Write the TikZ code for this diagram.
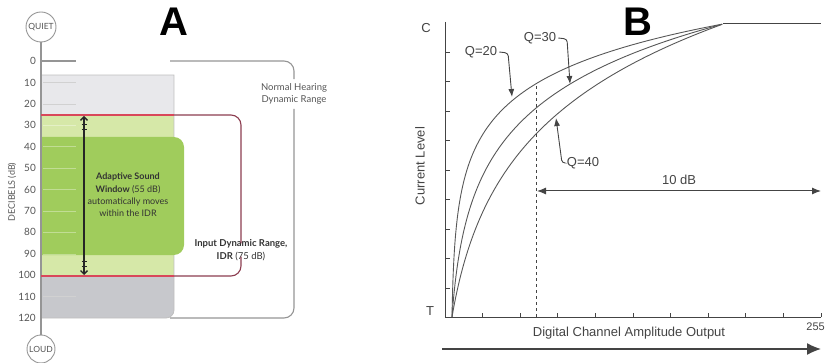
\documentclass[tikz,border=0pt]{standalone}
\usepackage{fontspec}
\setmainfont{Liberation Sans}
\newfontfamily\gillfont{Lato}
\usetikzlibrary{arrows.meta}

\definecolor{idrgrey}{HTML}{E8E8EB}
\definecolor{loudgrey}{HTML}{C7C8CC}
\definecolor{lightgreen}{HTML}{D6E8A8}
\definecolor{windowgreen}{HTML}{A0CC5C}
\definecolor{idrred}{HTML}{D9475A}
\definecolor{idrmaroon}{HTML}{8C3D50}
\definecolor{rangegrey}{HTML}{959595}
\definecolor{labelgrey}{HTML}{555555}
\definecolor{plotgrey}{HTML}{444444}

\tikzset{
  dbtext/.style={font=\gillfont\fontsize{10}{12}\selectfont, text=labelgrey},
  smalltext/.style={font=\gillfont\fontsize{9.5}{12.5}\selectfont, text=labelgrey, align=center},
  endcircle/.style={circle, draw=rangegrey, line width=0.9pt, minimum size=30pt, inner sep=0pt,
    font=\gillfont\fontsize{8.5}{10}\selectfont, text=labelgrey},
  plottext/.style={font=\fontsize{13}{15}\selectfont, text=plotgrey},
  bigletter/.style={font=\bfseries\fontsize{40}{40}\selectfont},
  qarrow/.style={plotgrey, line width=0.9pt, rounded corners=3pt, -{Latex[length=8pt,width=6pt]}},
}

\begin{document}
\begin{tikzpicture}[x=1pt,y=-1pt]
\tikzstyle{every node}+=[inner sep=0pt]
\useasboundingbox (0,0) rectangle (826,363);

% A: hearing range bar
\fill[idrgrey] (41,75) rectangle (174,115);
\fill[lightgreen] (41,115) rectangle (174,276);
\fill[loudgrey] (41,276) -- (174,276) -- (174,300) [rounded corners=8pt] -- (174,318) -- (100,318) [sharp corners] -- (41,318) -- cycle;
\draw[black!25, line width=0.8pt] (41,75) -- (174,75) -- (174,300) [rounded corners=8pt] -- (174,318) -- (100,318) [sharp corners] -- (41,318);
\fill[windowgreen] (41,137) -- (150,137) [rounded corners=10pt] -- (184,137) -- (184,255) -- (150,255) [sharp corners] -- (41,255) -- cycle;
\foreach \d in {10,20,110}
  \draw[black!18] (43,{61+2.142*\d}) -- (76,{61+2.142*\d});
\foreach \d in {30,40,...,90}
  \draw[white, opacity=0.35] (43,{61+2.142*\d}) -- (76,{61+2.142*\d});

% scale
\node[endcircle] (quiet) at (41,27) {QUIET};
\node[endcircle, minimum size=28pt] (loud) at (41,349) {LOUD};
\draw[rangegrey, line width=1.3pt] (quiet.south) -- (loud.north);
\foreach \d in {0,10,...,120}
  \node[dbtext, anchor=east] (db\d) at (36,{61+2.142*\d}) {\d};
\node[dbtext, font=\gillfont\fontsize{9}{10}\selectfont, rotate=90] (dblabel) at (12,192) {DECIBELS (dB)};

% input dynamic range
\node[smalltext, text=black!80] (idr) at (241,250) {\textbf{Input Dynamic Range,}\\\textbf{IDR} (75 dB)};
\coordinate (idrtop) at (174,115);
\coordinate (idrbot) at (174,276);
\draw[idrred, line width=1.3pt] (41,115) -- (idrtop);
\draw[idrred, line width=1.3pt] (41,276) -- (idrbot);
\draw[idrmaroon, line width=1.1pt, rounded corners=10pt] (idrtop) -| ([yshift=-4pt]idr.north);
\draw[idrmaroon, line width=1.1pt, rounded corners=10pt] ([yshift=4pt]idr.south) |- (idrbot);

% normal hearing dynamic range
\node[smalltext, inner ysep=4pt] (nhdr) at (294,94) {Normal Hearing\\Dynamic Range};
\coordinate (nhtop) at (170,61);
\coordinate (nhbot) at (170,318);
\draw[rangegrey, line width=1.1pt] (41,61) -- (76,61);
\draw[rangegrey, line width=1.1pt, rounded corners=10pt] (nhtop) -| (nhdr.north);
\draw[rangegrey, line width=1.1pt, rounded corners=10pt] (nhdr.south) |- (nhbot);

% adaptive sound window
\node[smalltext, text=black!80, font=\gillfont\fontsize{9}{12.3}\selectfont] (asw) at (128,195)
  {\textbf{Adaptive Sound}\\\textbf{Window} (55 dB)\\automatically moves\\within the IDR};
\coordinate (aswtop) at (84,116);
\coordinate (aswbot) at (84,275);
\draw[black!85, line width=1.3pt, {Straight Barb[length=3.5pt,width=7pt]}-{Straight Barb[length=3.5pt,width=7pt]}] (aswtop) -- (aswbot);
\foreach \yy in {125,130,261,266}
  \draw[black!85, line width=1pt] (81.5,\yy) -- (86.5,\yy);

\node[bigletter] (panela) at (174,22) {A};

% B: current level vs channel output
\coordinate (orig) at (445,317);
\coordinate (ytop) at (445,22);
\coordinate (xend) at (821,317);
\draw[plotgrey, line width=1pt] (ytop) -- (orig) -- (xend);
\foreach \i in {0,...,8}
  \draw[plotgrey, line width=0.9pt] (445,{52+29.5*\i}) -- ++(5,0);
\foreach \i in {1,...,10}
  \draw[plotgrey, line width=0.9pt] ({445+37.6*\i},317) -- ++(0,-4);
\foreach \k in {300,50,15}
  \draw[plotgrey!90, line width=0.9pt] plot[domain=0:1, samples=140, smooth, variable=\t]
    ({452+271*\t^3}, {317-293*ln(1+\k*\t^3)/ln(1+\k)});
\coordinate (knee) at (723,24);
\coordinate (plateau) at (821,24);
\draw[plotgrey, line width=1pt] (knee) -- (plateau);
\draw[plotgrey, line width=0.8pt, dashed] (536,86) -- (536,317);

\coordinate (tenl) at (537,191);
\coordinate (tenr) at (821,191);
\draw[plotgrey, line width=1pt, {Latex[length=9pt,width=7pt]}-{Latex[length=9pt,width=7pt]}] (tenl) -- (tenr)
  node[plottext, midway, above=6pt] (tendb) {10 dB};

\node[plottext] (clabel) at (426,28) {C};
\node[plottext] (tlabel) at (430,311) {T};
\node[plottext, rotate=90] (ylabel) at (420,166) {Current Level};
\node[plottext] (xlabel) at (629,333) {Digital Channel Amplitude Output};
\node[plottext, font=\fontsize{11}{13}\selectfont, anchor=east] (maxlabel) at (825,327) {255};
\coordinate (arrstart) at (442,349);
\coordinate (arrend) at (821,349);
\draw[plotgrey, line width=1.3pt, -{Latex[length=14pt,width=12pt]}] (arrstart) -- (arrend);

\node[plottext] (q20) at (481,52) {Q=20};
\node[plottext] (q30) at (540,38) {Q=30};
\node[plottext] (q40) at (583,163) {Q=40};
\draw[qarrow] ([xshift=2pt]q20.east) -- (508,53) -- (512,97);
\draw[qarrow] ([xshift=2pt]q30.east) -- (567,39) -- (570,84);
\draw[qarrow] ([xshift=-2pt]q40.west) -- (562,163) -- (556,118);

\node[bigletter] (panelb) at (638,22) {B};
\end{tikzpicture}
\end{document}
